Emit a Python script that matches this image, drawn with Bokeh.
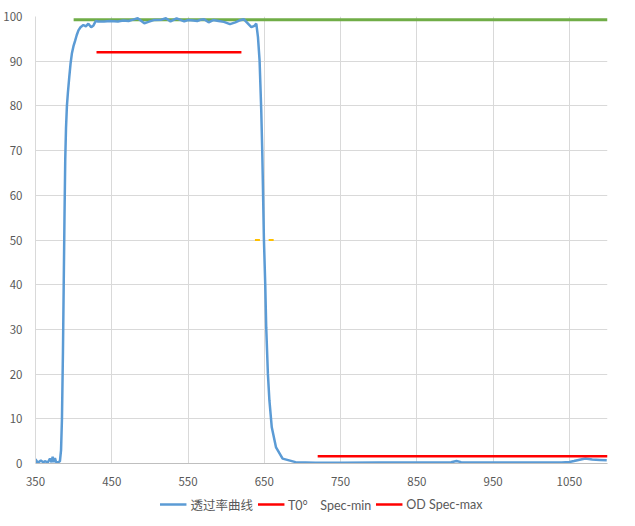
from bokeh.plotting import figure
from bokeh.layouts import column
from bokeh.models import Range1d, FixedTicker, Legend, LegendItem
from bokeh.embed import file_html
from bokeh.resources import INLINE

# Transmission curve (wavelength nm, transmittance %)
wl = [350, 352, 355, 357, 360, 363, 366, 369, 371, 372.5, 374, 375.5, 377, 380, 382,
      383.5, 384.7, 386, 387, 388, 389, 390, 391.2, 392.5, 394.3, 396, 397.7, 400, 402,
      404, 406.3, 409, 412.8, 416, 419.3, 423, 426, 429, 432, 440, 448, 458, 465, 472,
      478, 484, 492.7, 498, 505, 515, 521, 527, 535, 545, 550, 557, 562, 567, 571, 577,
      583, 590, 597, 605, 612, 617, 623, 628, 633, 637, 639.5, 641.7, 643.8, 646, 647.3,
      648.2, 649.5, 651.2, 652.5, 654.7, 656.7, 659.8, 665.4, 674, 691, 717, 750, 800,
      850, 880, 895, 902, 908, 950, 1000, 1040, 1050, 1056, 1065, 1071, 1080, 1090, 1099]
trans = [1.0, 0.3, 0.4, 0.7, 0.3, 0.5, 0.2, 1.1, 0.3, 1.5, 0.3, 1.2, 0.3, 0.3, 0.5,
         3, 10, 25, 40, 55, 68, 75, 80, 83, 86.5, 89.5, 91.7, 93.5, 94.6,
         95.8, 96.9, 97.6, 98.1, 97.8, 98.4, 97.6, 98.0, 99.0, 98.9, 98.9, 99.0, 98.9, 99.1, 99.0,
         99.3, 99.6, 98.5, 98.8, 99.2, 99.3, 99.6, 98.9, 99.6, 98.9, 99.2, 99.1, 99.0, 99.3, 99.4, 98.7,
         99.2, 99.0, 98.8, 98.3, 98.7, 99.1, 99.4, 98.5, 97.6, 97.9, 98.4, 95.4, 90.2, 79, 70,
         62, 50.1, 40.3, 30.5, 20.1, 14.1, 8.1, 3.6, 1.1, 0.3, 0.15, 0.15, 0.2,
         0.2, 0.25, 0.3, 0.55, 0.3, 0.2, 0.2, 0.25, 0.35, 0.55, 0.9, 1.1, 0.9, 0.8, 0.7]

# Reference lines
top_x = [400, 1100]
top_y = [99.3, 99.3]
specmin_x = [430, 620]
specmin_y = [92, 92]
odmax_x = [720, 1100]
odmax_y = [1.6, 1.6]
mark_x = [641, 659]
mark_y = [50, 50]

x_ticks = [350, 450, 550, 650, 750, 850, 950, 1050]
y_ticks = [0, 10, 20, 30, 40, 50, 60, 70, 80, 90, 100]

labels = ["透过率曲线", "T0°　Spec-min", "OD Spec-max"]
colors = ["#5B9BD5", "#FF0000", "#FF0000"]

FONT = "Noto Sans CJK SC"
LEG_FONT = "Lato, 'Noto Sans CJK SC'"
GRID = "#d9d9d9"
TXT = "#595959"

p = figure(width=619, height=488, output_backend="svg", toolbar_location=None,
           x_range=Range1d(350, 1100), y_range=Range1d(0, 100),
           min_border_left=28, min_border_right=12, min_border_top=16, min_border_bottom=25)
p.outline_line_color = None
p.background_fill_color = "white"
p.border_fill_color = "white"

p.xaxis.ticker = FixedTicker(ticks=x_ticks)
p.yaxis.ticker = FixedTicker(ticks=y_ticks)
p.xgrid.ticker = FixedTicker(ticks=x_ticks)
p.ygrid.ticker = FixedTicker(ticks=y_ticks)
for g in (p.xgrid, p.ygrid):
    g.grid_line_color = GRID
    g.grid_line_width = 1
for ax in (p.xaxis, p.yaxis):
    ax.major_tick_line_color = None
    ax.minor_tick_line_color = None
    ax.major_label_text_font = FONT
    ax.major_label_text_font_size = "11.5px"
    ax.major_label_text_color = TXT
    ax.axis_line_color = "#bfbfbf"
    ax.major_label_standoff = 7
p.yaxis.axis_line_color = GRID

p.line(top_x, top_y, line_color="#70AD47", line_width=3)
p.line(wl, trans, line_color=colors[0], line_width=2.5)
p.line(specmin_x, specmin_y, line_color=colors[1], line_width=2.5)
p.line(odmax_x, odmax_y, line_color=colors[2], line_width=2.5)
p.scatter(mark_x, mark_y, marker="dash", size=5, line_color="#FFC000", line_width=2)

# Legend strip below the chart (swatch renderers sit outside the visible range)
lg = figure(width=619, height=32, output_backend="svg", toolbar_location=None,
            x_range=Range1d(0, 1), y_range=Range1d(0, 1),
            min_border_left=0, min_border_right=0, min_border_top=0, min_border_bottom=0)
lg.axis.visible = False
lg.grid.visible = False
lg.outline_line_color = None
items = []
for lab, col in zip(labels, colors):
    r = lg.line(x=[-5, -4], y=[-5, -4], line_color=col, line_width=2.5)
    items.append(LegendItem(label=lab, renderers=[r]))
legend = Legend(items=items, orientation="horizontal", location="center",
                label_text_font=LEG_FONT, label_text_font_size="12.5px", label_text_color=TXT,
                glyph_width=27, label_standoff=4, spacing=4, padding=4, margin=0,
                border_line_color=None, background_fill_alpha=0)
lg.add_layout(legend)

open("out.html", "w").write(file_html(column(p, lg, spacing=0), INLINE))
